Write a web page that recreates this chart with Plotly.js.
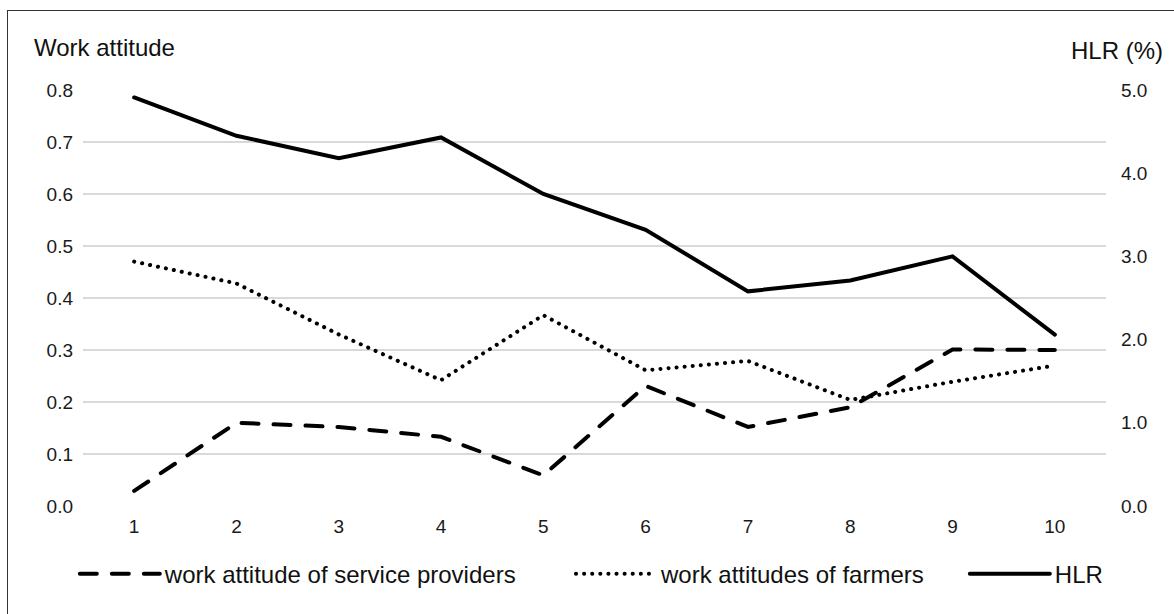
<!DOCTYPE html>
<html><head><meta charset="utf-8">
<script src="https://cdn.plot.ly/plotly-3.0.1.min.js"></script>
<style>
html,body{margin:0;padding:0;background:#fff;overflow:hidden}
#chart{position:absolute;left:0;top:0;width:1174px;height:614px}
#frame{position:absolute;left:7px;top:10px;width:1190px;height:630px;border:1.5px solid #333;box-sizing:border-box;pointer-events:none}
#chart path.js-line, #chart .legendlines path{stroke-linecap:round}
</style></head><body>
<div id="chart"></div><div id="frame"></div>
<script>
const periods = ['1','2','3','4','5','6','7','8','9','10'];
const serviceProviders = [0.029,0.16,0.152,0.133,0.059,0.231,0.152,0.19,0.301,0.30];
const farmers = [0.47,0.428,0.33,0.242,0.367,0.261,0.279,0.204,0.239,0.27];
const hlr = [4.91,4.45,4.18,4.43,3.75,3.32,2.58,2.71,3.0,2.06];
const leftTickVals = [0,0.1,0.2,0.3,0.4,0.5,0.6,0.7,0.8];
const leftTickText = ['0.0','0.1','0.2','0.3','0.4','0.5','0.6','0.7','0.8'];
const rightTickVals = [0,1,2,3,4,5];
const rightTickText = ['0.0','1.0','2.0','3.0','4.0','5.0'];
const seriesNames = ['work attitude of service providers','work attitudes of farmers','HLR'];
const leftTitle = 'Work attitude';
const rightTitle = 'HLR (%)';

const FONT = '"Liberation Sans",Arial,sans-serif';

const traces = [
  {x: periods, y: serviceProviders, name: seriesNames[0], type:'scatter', mode:'lines',
   line:{color:'#000', width:4, dash:'17px,15px'}, yaxis:'y', legend:'legend'},
  {x: periods, y: farmers, name: seriesNames[1], type:'scatter', mode:'lines',
   line:{color:'#000', width:4, dash:'0.1px,8px'}, yaxis:'y', legend:'legend2'},
  {x: periods, y: hlr, name: seriesNames[2], type:'scatter', mode:'lines',
   line:{color:'#000', width:4}, yaxis:'y2', legend:'legend3'}
];

const legendBase = {orientation:'h', xanchor:'left', yanchor:'top', y:-0.11,
  font:{size:24, color:'#111'}, itemwidth:80, bgcolor:'rgba(0,0,0,0)'};

const layout = {
  width:1174, height:614,
  margin:{l:83, r:68, t:90, b:108},
  paper_bgcolor:'rgba(0,0,0,0)', plot_bgcolor:'#fff',
  font:{family:FONT, color:'#1a1a1a', size:19},
  showlegend:true,
  xaxis:{type:'category', range:[-0.5,9.5], showgrid:false, zeroline:false, showline:false, ticks:'',
         tickfont:{size:19}, ticklabelstandoff:7},
  yaxis:{range:[0,0.8], tickvals:leftTickVals, ticktext:leftTickText, showgrid:true,
         gridcolor:'#d9d9d9', gridwidth:1.5, zeroline:false, showline:false, ticks:'',
         tickfont:{size:19}, ticklabelstandoff:9},
  yaxis2:{range:[0,5], tickvals:rightTickVals, ticktext:rightTickText, overlaying:'y', side:'right',
          showgrid:false, zeroline:false, showline:false, ticks:'', tickfont:{size:19}, ticklabelstandoff:14},
  legend:Object.assign({}, legendBase, {x:-0.008}),
  legend2:Object.assign({}, legendBase, {x:0.477}),
  legend3:Object.assign({}, legendBase, {x:0.862}),
  annotations:[
    {text:leftTitle, xref:'paper', yref:'paper', x:-0.05, xanchor:'left', y:1.103, yanchor:'middle',
     showarrow:false, font:{size:24, color:'#111'}},
    {text:rightTitle, xref:'paper', yref:'paper', x:1.0577, xanchor:'right', y:1.094, yanchor:'middle',
     showarrow:false, font:{size:24, color:'#111'}}
  ]
};

Plotly.newPlot('chart', traces, layout, {displayModeBar:false, staticPlot:true});
</script>
</body></html>
